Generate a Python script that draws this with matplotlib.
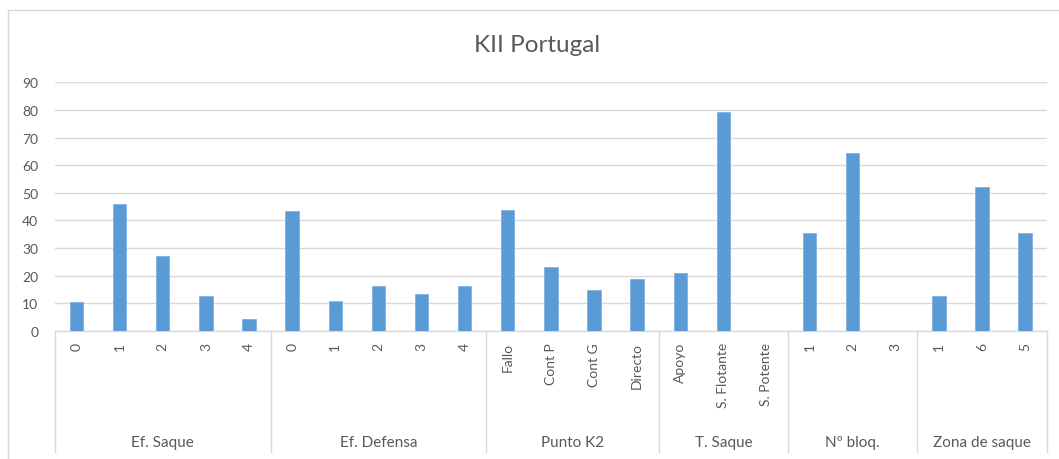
import matplotlib
matplotlib.use("Agg")
import matplotlib.pyplot as plt
import matplotlib.transforms as mtransforms
from matplotlib.patches import Rectangle

plt.rcParams["font.family"] = ["Lato", "DejaVu Sans"]

# --- data ---
groups = ["Ef. Saque", "Ef. Defensa", "Punto K2", "T. Saque", "Nº bloq.", "Zona de saque"]
groupLabels = [
    ["0", "1", "2", "3", "4"],
    ["0", "1", "2", "3", "4"],
    ["Fallo", "Cont P", "Cont G", "Directo"],
    ["Apoyo", "S. Flotante", "S. Potente"],
    ["1", "2", "3"],
    ["1", "6", "5"],
]
efSaque = [10.3, 45.8, 27.1, 12.5, 4.2]
efDefensa = [43.3, 10.8, 16.2, 13.4, 16.2]
puntoK2 = [43.7, 23.0, 14.6, 18.7]
tSaque = [20.8, 79.1, 0]
nBloq = [35.5, 64.5, 0]
zonaSaque = [12.5, 52.1, 35.4]

values = efSaque + efDefensa + puntoK2 + tSaque + nBloq + zonaSaque
labels = [lab for g in groupLabels for lab in g]

BAR = "#5B9BD5"
GRID = "#D9D9D9"
TXT = "#595959"
W, H = 1059, 460

fig = plt.figure(figsize=(W / 100, H / 100), dpi=100)
ax = fig.add_axes([55 / W, 1 - 331.7 / H, (1046.7 - 55) / W, (331.7 - 83.3) / H])

x = list(range(len(values)))
ax.bar(x, values, width=0.31, color=BAR, edgecolor="#7FB2E0", linewidth=0.6, zorder=3)

ax.set_xlim(-0.5, len(values) - 0.5)
ax.set_ylim(0, 90)
ax.set_yticks(range(0, 91, 10))
ax.tick_params(axis="y", length=0, pad=12, labelsize=10, labelcolor=TXT)
ax.set_xticks([])
ax.grid(axis="y", color=GRID, linewidth=1, zorder=0)
for s in ["top", "right", "left"]:
    ax.spines[s].set_visible(False)
ax.spines["bottom"].set_color(GRID)
ax.spines["bottom"].set_linewidth(1)

fig.text(537 / W, 1 - 46 / H, "KII Portugal", fontsize=17.5, color=TXT, ha="center", va="center")

# multi-level category axis
trans = mtransforms.blended_transform_factory(ax.transData, fig.transFigure)
yTop = 1 - 331.7 / H
yBot = 1 - 453 / H
yTick = 1 - 343 / H
yGroup = 1 - 443 / H

start = 0
bounds = [-0.5]
for g, labs in zip(groups, groupLabels):
    n = len(labs)
    bounds.append(start + n - 0.5)
    ax.text(start + (n - 1) / 2, yGroup, g, transform=trans, ha="center", va="center",
            fontsize=11, color=TXT)
    start += n
for i, lab in enumerate(labels):
    ax.text(i, yTick, lab, transform=trans, rotation=90, ha="center", va="top",
            fontsize=10, color=TXT)
for b in bounds:
    ax.plot([b, b], [yTop, yBot], transform=trans, color=GRID, linewidth=1, clip_on=False)

# chart border (cropped on right and bottom)
fig.add_artist(Rectangle((8 / W, -0.1), 1.2, 1 - 11 / H + 0.1, transform=fig.transFigure,
                         fill=False, edgecolor=GRID, linewidth=1))

fig.savefig("out.png", dpi=100)
